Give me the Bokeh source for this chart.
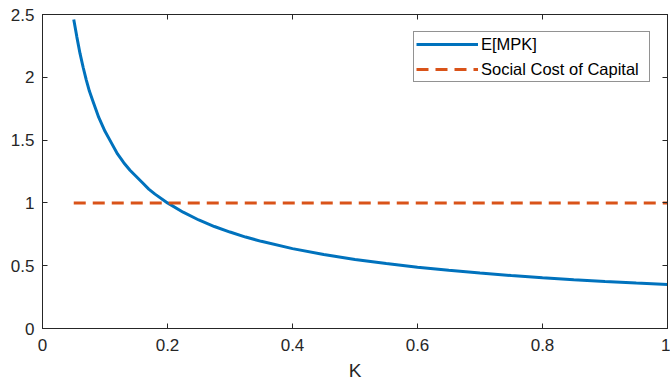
from bokeh.plotting import figure
from bokeh.models import LinearAxis, Range1d, FixedTicker, Legend, LegendItem
from bokeh.embed import file_html
from bokeh.resources import INLINE

# Data
k_vals = [0.05, 0.055, 0.06, 0.065, 0.07, 0.075, 0.08, 0.085, 0.09, 0.10, 0.11,
          0.12, 0.13, 0.14, 0.15, 0.16, 0.17, 0.18, 0.20, 0.225,
          0.25, 0.275, 0.30, 0.325, 0.35, 0.40, 0.45, 0.50, 0.55, 0.60, 0.65, 0.70, 0.75,
          0.80, 0.85, 0.90, 0.95, 1.00]
mpk_vals = [2.46, 2.32, 2.19, 2.08, 1.98, 1.89, 1.82, 1.75, 1.68, 1.57, 1.48,
            1.39, 1.32, 1.26, 1.21, 1.16, 1.11, 1.07, 1.00, 0.926,
            0.864, 0.812, 0.768, 0.728, 0.694, 0.636, 0.589, 0.550, 0.517, 0.488, 0.463, 0.442, 0.422,
            0.405, 0.389, 0.375, 0.362, 0.350]
cost_k = [0.05, 1.00]
cost_vals = [1.0, 1.0]

x_ticks = [0, 0.2, 0.4, 0.6, 0.8, 1]
x_tick_labels = ["0", "0.2", "0.4", "0.6", "0.8", "1"]
y_ticks = [0, 0.5, 1, 1.5, 2, 2.5]
y_tick_labels = ["0", "0.5", "1", "1.5", "2", "2.5"]

series_names = ["E[MPK]", "Social Cost of Capital"]

AX = "#262626"
FONT = "Liberation Sans"

p = figure(width=670, height=383, output_backend="svg", toolbar_location=None,
           x_range=Range1d(0, 1), y_range=Range1d(0, 2.5),
           x_axis_label="K", min_border_left=42, min_border_right=3,
           min_border_top=14, min_border_bottom=55)
p.grid.visible = False
p.outline_line_color = AX
p.background_fill_color = "white"
p.border_fill_color = "white"

def style_axis(ax, ticks, labels=None):
    ax.ticker = FixedTicker(ticks=ticks)
    ax.major_tick_in = 5
    ax.major_tick_out = 0
    ax.minor_tick_line_color = None
    ax.axis_line_color = AX
    ax.major_tick_line_color = AX
    ax.major_label_text_color = AX
    ax.major_label_text_font = FONT
    ax.major_label_text_font_size = "17px"
    ax.axis_label_text_font = FONT
    ax.axis_label_text_font_style = "normal"
    ax.axis_label_text_font_size = "19px"
    ax.axis_label_text_color = AX
    ax.axis_label_text_line_height = 1.0
    if labels is not None:
        ax.major_label_overrides = {t: l for t, l in zip(ticks, labels)}

style_axis(p.xaxis[0], x_ticks, x_tick_labels)
p.xaxis[0].major_label_text_line_height = 1.0
p.xaxis[0].major_label_standoff = 10
p.xaxis[0].axis_label_standoff = 6
style_axis(p.yaxis[0], y_ticks, y_tick_labels)
p.yaxis[0].major_label_standoff = 8

top = LinearAxis()
style_axis(top, x_ticks)
top.major_label_text_font_size = "1px"
top.major_label_text_color = None
top.major_label_standoff = 0
p.add_layout(top, "above")
right = LinearAxis()
style_axis(right, y_ticks)
right.major_label_text_font_size = "1px"
right.major_label_text_color = None
right.major_label_standoff = 0
p.add_layout(right, "right")

r1 = p.line(k_vals, mpk_vals, line_color="#0072BD", line_width=3)
r2 = p.line(cost_k, cost_vals, line_color="#D95319", line_width=3, line_dash="12 7")

legend = Legend(items=[LegendItem(label=series_names[0], renderers=[r1]),
                       LegendItem(label=series_names[1], renderers=[r2])],
                location="top_right", margin=17, padding=2, spacing=5,
                glyph_width=62, glyph_height=20, label_height=20, label_width=166,
                label_standoff=3, label_text_font=FONT, label_text_font_size="16.5px",
                label_text_color="black", border_line_color=AX, border_line_width=1,
                background_fill_color="white", background_fill_alpha=1)
p.add_layout(legend)

open("out.html", "w").write(file_html(p, INLINE))
